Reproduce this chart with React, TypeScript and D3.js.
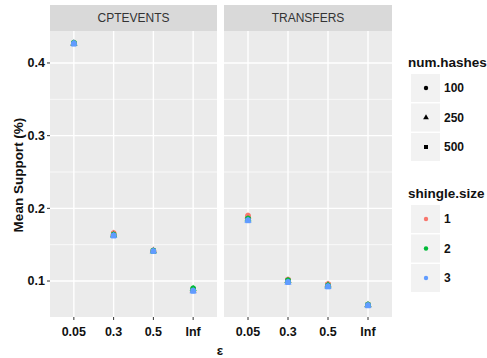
import React from "react";
import * as d3 from "d3";

const epsilons = ["0.05", "0.3", "0.5", "Inf"];
const panels = ["CPTEVENTS", "TRANSFERS"];
const hashes = ["100", "250", "500"];
const shingles = ["1", "2", "3"];
const shingleColors = ["#F8766D", "#00BA38", "#619CFF"];
const yTicks = [0.1, 0.2, 0.3, 0.4];
const yMinor = [0.15, 0.25, 0.35];

// values per hashes (rows: 100, 250, 500), columns: epsilons
const cptS1 = [
  [0.427, 0.166, 0.142, 0.088],
  [0.427, 0.165, 0.142, 0.087],
  [0.427, 0.164, 0.141, 0.087],
];
const cptS2 = [
  [0.428, 0.164, 0.142, 0.09],
  [0.427, 0.163, 0.141, 0.089],
  [0.427, 0.163, 0.141, 0.088],
];
const cptS3 = [
  [0.427, 0.163, 0.141, 0.087],
  [0.427, 0.162, 0.141, 0.086],
  [0.426, 0.162, 0.141, 0.086],
];
const trS1 = [
  [0.19, 0.102, 0.096, 0.067],
  [0.189, 0.101, 0.095, 0.067],
  [0.188, 0.101, 0.095, 0.067],
];
const trS2 = [
  [0.186, 0.101, 0.094, 0.067],
  [0.185, 0.1, 0.094, 0.067],
  [0.185, 0.1, 0.093, 0.067],
];
const trS3 = [
  [0.184, 0.099, 0.093, 0.067],
  [0.183, 0.098, 0.092, 0.066],
  [0.183, 0.098, 0.092, 0.066],
];
const panelData = [
  [cptS1, cptS2, cptS3],
  [trS1, trS2, trS3],
];

const FONT = "'Liberation Sans', Arial, sans-serif";

function Marker({ shape, x, y, color, s }: { shape: number; x: number; y: number; color: string; s: number }) {
  if (shape === 0) return <circle cx={x} cy={y} r={s * 0.55} fill={color} />;
  if (shape === 1) {
    const p = d3.symbol().type(d3.symbolTriangle).size(s * s * 0.9)();
    return <path d={p || ""} transform={`translate(${x},${y})`} fill={color} />;
  }
  return <rect x={x - s / 2} y={y - s / 2} width={s} height={s} fill={color} />;
}

export default function App() {
  const top = 31;
  const bottom = 317;
  const y = d3.scaleLinear().domain([0.0505, 0.444]).range([bottom, top]);
  const panelRanges: [number, number][] = [
    [50, 217],
    [224, 392],
  ];

  return (
    <svg width={487} height={358} style={{ position: "absolute", left: 0, top: 0, background: "#fff" }} fontFamily={FONT}>
      <rect width={487} height={358} fill="#fff" />
      {panels.map((name, pi) => {
        const [x0, x1] = panelRanges[pi];
        const x = d3.scalePoint<string>().domain(epsilons).range([x0, x1]).padding(0.6);
        return (
          <g key={name}>
            <rect x={x0} y={5} width={x1 - x0} height={26} fill="#D9D9D9" />
            <text x={(x0 + x1) / 2} y={18} dy="0.35em" textAnchor="middle" fontSize={12} fill="#333">
              {name}
            </text>
            <rect x={x0} y={top} width={x1 - x0} height={bottom - top} fill="#EBEBEB" />
            {yMinor.map((t) => (
              <line key={"mn" + t} x1={x0} x2={x1} y1={y(t)} y2={y(t)} stroke="#fff" strokeWidth={0.7} />
            ))}
            {yTicks.map((t) => (
              <line key={"mj" + t} x1={x0} x2={x1} y1={y(t)} y2={y(t)} stroke="#fff" strokeWidth={1.4} />
            ))}
            {epsilons.map((e) => (
              <line key={"v" + e} x1={x(e)!} x2={x(e)!} y1={top} y2={bottom} stroke="#fff" strokeWidth={1.4} />
            ))}
            {epsilons.map((e) => (
              <g key={"t" + e}>
                <line x1={x(e)!} x2={x(e)!} y1={bottom} y2={bottom + 3} stroke="#333" strokeWidth={1} />
                <text x={x(e)!} y={332} dy="0.35em" textAnchor="middle" fontSize={12.5} fontWeight="bold" fill="#111">
                  {e}
                </text>
              </g>
            ))}
            {panelData[pi].map((sd, si) =>
              sd.map((vals, hi) =>
                vals.map((v, ei) => (
                  <Marker
                    key={`${si}-${hi}-${ei}`}
                    shape={hi}
                    x={x(epsilons[ei])!}
                    y={y(v)}
                    color={shingleColors[si]}
                    s={5}
                  />
                ))
              )
            )}
          </g>
        );
      })}
      {yTicks.map((t) => (
        <g key={"yt" + t}>
          <line x1={47} x2={50} y1={y(t)} y2={y(t)} stroke="#333" strokeWidth={1} />
          <text x={45} y={y(t)} dy="0.35em" textAnchor="end" fontSize={12.5} fontWeight="bold" fill="#111">
            {t.toFixed(1)}
          </text>
        </g>
      ))}
      <text
        transform={`translate(18,175) rotate(-90)`}
        textAnchor="middle"
        dy="0.35em"
        fontSize={13.5}
        fontWeight="bold"
        fill="#111"
      >
        Mean Support (%)
      </text>
      <text x={220} y={350} dy="0.35em" textAnchor="middle" fontSize={13.5} fontWeight="bold" fill="#111">
        ε
      </text>

      {/* legend num.hashes */}
      <text x={408} y={62} dy="0.35em" fontSize={13.5} fontWeight="bold" fill="#111">
        num.hashes
      </text>
      {hashes.map((h, i) => {
        const cy = 88 + i * 29.5;
        return (
          <g key={"lh" + h}>
            <rect x={411} y={cy - 14} width={29} height={28} fill="#F2F2F2" />
            <Marker shape={i} x={426} y={cy} color="#000" s={4} />
            <text x={444} y={cy} dy="0.35em" fontSize={12} fontWeight="bold" fill="#111">
              {h}
            </text>
          </g>
        );
      })}
      <text x={408} y={193} dy="0.35em" fontSize={13.5} fontWeight="bold" fill="#111">
        shingle.size
      </text>
      {shingles.map((s, i) => {
        const cy = 219 + i * 29.5;
        return (
          <g key={"ls" + s}>
            <rect x={411} y={cy - 14} width={29} height={28} fill="#F2F2F2" />
            <circle cx={426} cy={cy} r={2.2} fill={shingleColors[i]} />
            <text x={444} y={cy} dy="0.35em" fontSize={12} fontWeight="bold" fill="#111">
              {s}
            </text>
          </g>
        );
      })}
    </svg>
  );
}
